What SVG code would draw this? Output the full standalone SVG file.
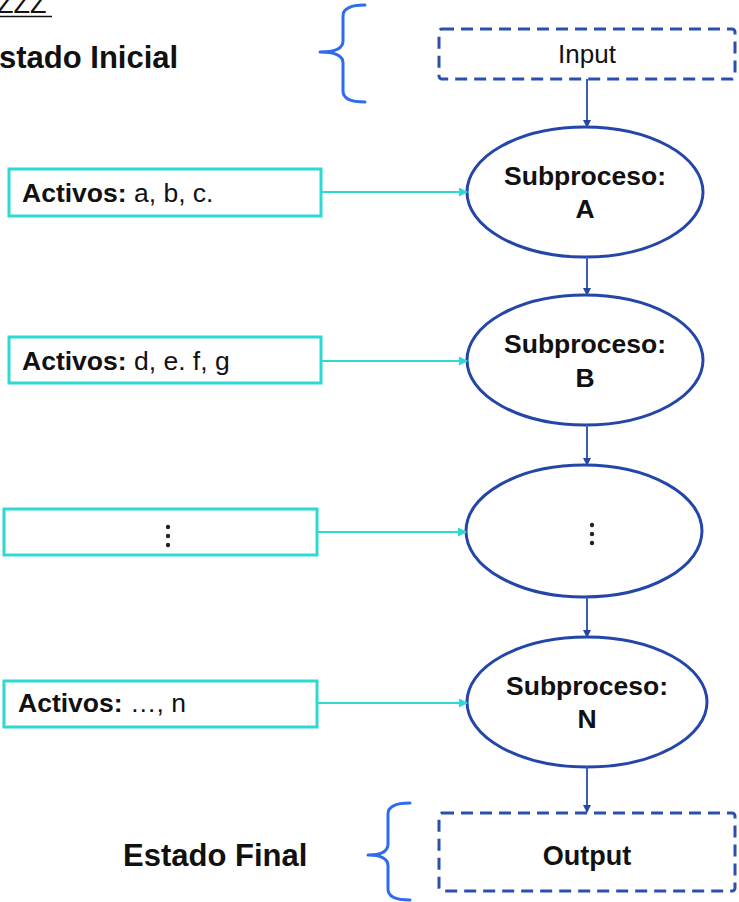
<svg xmlns="http://www.w3.org/2000/svg" width="739" height="902" viewBox="0 0 739 902">
<style>
  text { font-family: "Liberation Sans", Arial, sans-serif; fill: #111; }
  .b { font-weight: bold; }
  .ell { fill: #fff; stroke: #2446a8; stroke-width: 3; }
  .dash { fill: #fff; stroke: #2b4fb0; stroke-width: 3; stroke-dasharray: 12 7; }
  .act { fill: #fff; stroke: #2ed8d3; stroke-width: 3; }
  .vc { stroke: #3a5db5; stroke-width: 2; fill: none; }
  .hc { stroke: #2ed8d3; stroke-width: 2; fill: none; }
  .brace { fill: none; stroke: #2f6bed; stroke-width: 3; stroke-linecap: round; stroke-linejoin: round; }
</style>
<defs>
  <marker id="ab" markerWidth="8" markerHeight="8" refX="7" refY="4" orient="auto" markerUnits="userSpaceOnUse">
    <path d="M0,0 L8,4 L0,8 z" fill="#2446a8"/>
  </marker>
  <marker id="ac" markerWidth="9" markerHeight="9" refX="8" refY="4.5" orient="auto" markerUnits="userSpaceOnUse">
    <path d="M0,0 L9,4.5 L0,9 z" fill="#2ed8d3"/>
  </marker>
</defs>

<g id="header">
  <text x="-3" y="13" font-size="27">ZZZ</text>
  <line x1="0" y1="16.5" x2="52" y2="16.5" stroke="#111" stroke-width="1.5"/>
</g>

<g id="estado-inicial">
  <text class="b" x="-1" y="68" font-size="31">stado Inicial</text>
  <path class="brace" d="M365,5 Q343,5 343,16 L343,41 Q343,52 320,52 Q343,52 343,63 L343,91 Q343,102 365,102"/>
</g>

<g id="estado-final">
  <text class="b" x="123" y="866" font-size="31">Estado Final</text>
  <path class="brace" stroke-width="2" d="M410,803 Q388,803 388,814 L388,844 Q388,855 368,855 Q388,855 388,866 L388,889 Q388,900 410,900"/>
</g>

<g id="input">
  <rect class="dash" x="439" y="29" width="296" height="50" rx="3"/>
  <text x="587" y="63" font-size="26" text-anchor="middle">Input</text>
</g>

<g id="sub-a">
  <ellipse class="ell" cx="585" cy="192" rx="118" ry="65"/>
  <text class="b" x="585" y="185" font-size="26.5" text-anchor="middle">Subproceso:</text>
  <text class="b" x="585" y="218" font-size="26.5" text-anchor="middle">A</text>
</g>

<g id="sub-b">
  <ellipse class="ell" cx="585" cy="360" rx="118" ry="65"/>
  <text class="b" x="585" y="353" font-size="26.5" text-anchor="middle">Subproceso:</text>
  <text class="b" x="585" y="387" font-size="26.5" text-anchor="middle">B</text>
</g>

<g id="sub-dots">
  <ellipse class="ell" cx="584" cy="531" rx="118" ry="66"/>
  <circle cx="592" cy="525" r="2.2" fill="#222"/>
  <circle cx="592" cy="534" r="2.2" fill="#222"/>
  <circle cx="592" cy="543" r="2.2" fill="#222"/>
</g>

<g id="sub-n">
  <ellipse class="ell" cx="587" cy="702" rx="120" ry="65"/>
  <text class="b" x="587" y="695" font-size="26.5" text-anchor="middle">Subproceso:</text>
  <text class="b" x="587" y="728" font-size="26.5" text-anchor="middle">N</text>
</g>

<g id="output">
  <rect class="dash" x="439" y="813" width="296" height="78" rx="3"/>
  <text class="b" x="587" y="865" font-size="27" text-anchor="middle">Output</text>
</g>

<g id="activos-1">
  <rect class="act" x="9" y="169" width="312" height="47"/>
  <text x="22" y="202" font-size="26.5"><tspan class="b">Activos:</tspan> a, b, c.</text>
</g>

<g id="activos-2">
  <rect class="act" x="9" y="337" width="312" height="46"/>
  <text x="22" y="370" font-size="26.5"><tspan class="b">Activos:</tspan> d, e. f, g</text>
</g>

<g id="activos-3">
  <rect class="act" x="4" y="509" width="313" height="46"/>
  <circle cx="168" cy="527" r="2.2" fill="#222"/>
  <circle cx="168" cy="536" r="2.2" fill="#222"/>
  <circle cx="168" cy="545" r="2.2" fill="#222"/>
</g>

<g id="activos-4">
  <rect class="act" x="4" y="681" width="313" height="46"/>
  <text x="18" y="712" font-size="26.5"><tspan class="b">Activos:</tspan>  …, n</text>
</g>

<g id="connectors">
  <line class="vc" x1="587" y1="79" x2="587" y2="127" marker-end="url(#ab)"/>
  <line class="vc" x1="587" y1="257" x2="587" y2="295" marker-end="url(#ab)"/>
  <line class="vc" x1="587" y1="425" x2="587" y2="465" marker-end="url(#ab)"/>
  <line class="vc" x1="587" y1="597" x2="587" y2="637" marker-end="url(#ab)"/>
  <line class="vc" x1="587" y1="767" x2="587" y2="812" marker-end="url(#ab)"/>
  <line class="hc" x1="322" y1="192" x2="467" y2="192" marker-end="url(#ac)"/>
  <line class="hc" x1="322" y1="361" x2="467" y2="361" marker-end="url(#ac)"/>
  <line class="hc" x1="317" y1="532" x2="466" y2="532" marker-end="url(#ac)"/>
  <line class="hc" x1="317" y1="703" x2="467" y2="703" marker-end="url(#ac)"/>
</g>
</svg>
